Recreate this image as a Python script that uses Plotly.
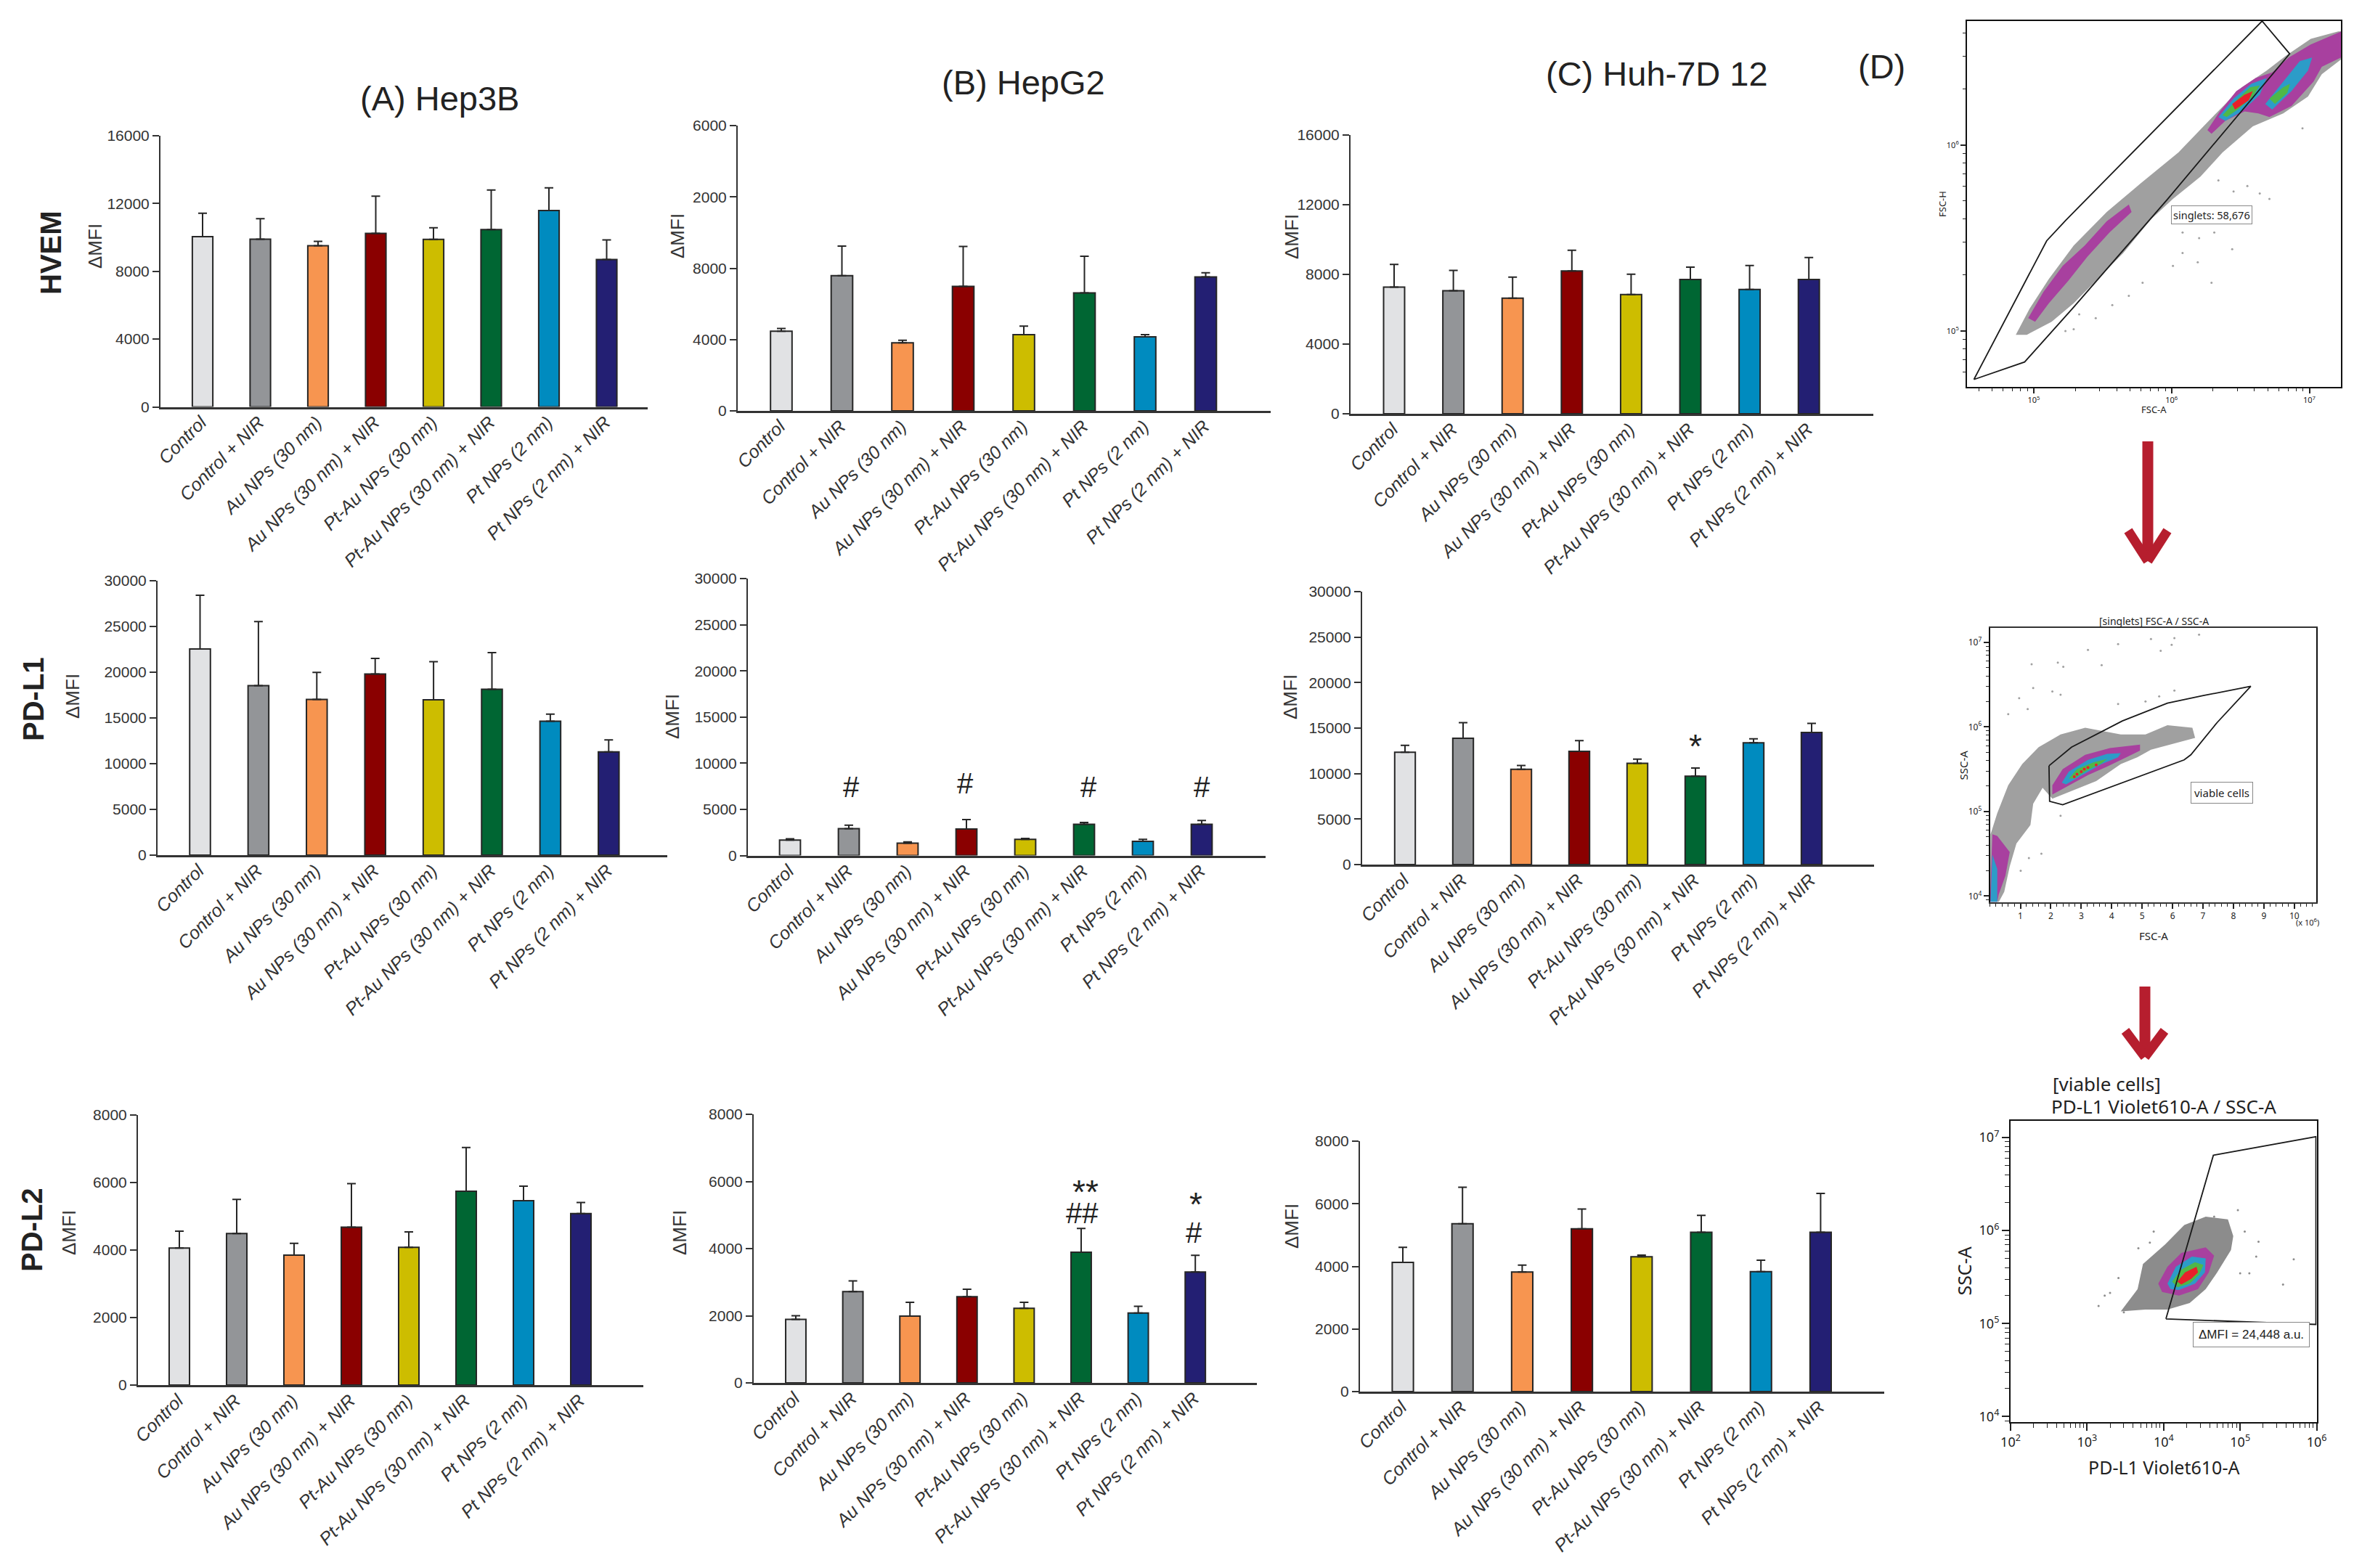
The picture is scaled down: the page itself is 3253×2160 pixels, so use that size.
import numpy as np
import plotly.graph_objects as go

W, H = 3253, 2160
PAGE_INSET = 8  # the page body's own margin
FONT = "Liberation Sans"
FLOW = "Noto Sans"

categories = ["Control", "Control + NIR", "Au NPs (30 nm)", "Au NPs (30 nm) + NIR",
              "Pt-Au NPs (30 nm)", "Pt-Au NPs (30 nm) + NIR", "Pt NPs (2 nm)", "Pt NPs (2 nm) + NIR"]
bar_colors = ["#E1E2E4", "#939598", "#F79550", "#8A0000", "#CDBD00", "#006633", "#008BBF", "#231F73"]

# ----- bar heights and the top of each error bar -----
hep3b_hvem = [10050, 9900, 9510, 10240, 9890, 10460, 11590, 8700]
hep3b_hvem_top = [11430, 11110, 9770, 12430, 10570, 12800, 12930, 9850]
hepg2_hvem = [4470, 7580, 3820, 6980, 4270, 6620, 4150, 7510]
hepg2_hvem_top = [4620, 9240, 3960, 9220, 4750, 8670, 4270, 7750]
huh7_hvem = [7260, 7050, 6630, 8190, 6830, 7700, 7130, 7700]
huh7_hvem_top = [8560, 8220, 7830, 9370, 8000, 8410, 8500, 8960]

hep3b_pdl1 = [22530, 18540, 17030, 19810, 16990, 18130, 14650, 11280]
hep3b_pdl1_top = [28410, 25530, 19990, 21500, 21160, 22150, 15410, 12590]
hepg2_pdl1 = [1670, 2900, 1330, 2870, 1740, 3380, 1540, 3380]
hepg2_pdl1_top = [1810, 3280, 1470, 3890, 1840, 3580, 1740, 3790]
huh7_pdl1 = [12340, 13890, 10470, 12440, 11130, 9710, 13380, 14520]
huh7_pdl1_top = [13100, 15590, 10890, 13620, 11580, 10610, 13820, 15520]

hep3b_pdl2 = [4060, 4490, 3850, 4680, 4080, 5740, 5460, 5080]
hep3b_pdl2_top = [4560, 5500, 4200, 5970, 4540, 7040, 5890, 5410]
hepg2_pdl2 = [1890, 2720, 1990, 2570, 2220, 3890, 2080, 3300]
hepg2_pdl2_top = [2000, 3040, 2400, 2790, 2400, 4600, 2280, 3800]
huh7_pdl2 = [4130, 5360, 3820, 5200, 4310, 5090, 3830, 5090]
huh7_pdl2_top = [4610, 6530, 4040, 5830, 4360, 5630, 4200, 6330]

# tick values and the labels as they are printed (the HepG2 HVEM panel has clipped labels)
ticks_16k = [0, 4000, 8000, 12000, 16000]
ticks_16k_text = ["0", "4000", "8000", "12000", "16000"]
ticks_16k_clipped = ["0", "4000", "8000", "2000", "6000"]
ticks_30k = [0, 5000, 10000, 15000, 20000, 25000, 30000]
ticks_30k_text = ["0", "5000", "10000", "15000", "20000", "25000", "30000"]
ticks_8k = [0, 2000, 4000, 6000, 8000]
ticks_8k_text = ["0", "2000", "4000", "6000", "8000"]

# ----- flow cytometry regions, as (log10 x, log10 y) or (x in 1e6, log10 y) -----
d1_gate_x = [4.566, 4.924, 5.094, 5.233, 6.657, 6.857, 5.970, 5.283, 4.934, 4.566]
d1_gate_y = [4.740, 5.248, 5.485, 5.596, 6.666, 6.490, 5.708, 5.123, 4.834, 4.740]
d1_gray_x = [4.87, 4.97, 5.11, 5.29, 5.53, 5.77, 6.05, 6.27, 6.51, 6.69, 6.83, 7.01, 7.21, 7.23, 7.23, 7.09, 6.99, 6.81, 6.59, 6.37, 6.21, 6.01, 5.85, 5.65, 5.49, 5.29, 5.13, 4.95]
d1_gray_y = [4.98, 5.12, 5.28, 5.46, 5.64, 5.79, 5.96, 6.13, 6.31, 6.40, 6.48, 6.57, 6.61, 6.61, 6.46, 6.38, 6.26, 6.17, 6.10, 5.96, 5.83, 5.71, 5.60, 5.42, 5.30, 5.15, 5.05, 4.98]
d1_mag1_x = [4.96, 5.07, 5.21, 5.37, 5.53, 5.69, 5.71, 5.55, 5.39, 5.25, 5.11, 5.01]
d1_mag1_y = [5.07, 5.21, 5.35, 5.46, 5.59, 5.68, 5.64, 5.53, 5.40, 5.27, 5.15, 5.05]
d1_mag2_x = [6.26, 6.35, 6.47, 6.61, 6.73, 6.85, 7.01, 7.23, 7.23, 7.09, 7.03, 6.87, 6.71, 6.63, 6.53, 6.39, 6.29]
d1_mag2_y = [6.08, 6.18, 6.29, 6.36, 6.39, 6.47, 6.54, 6.61, 6.47, 6.42, 6.34, 6.21, 6.15, 6.17, 6.18, 6.13, 6.06]
d1_cyan1_x = [6.34, 6.45, 6.58, 6.69, 6.64, 6.51, 6.39]
d1_cyan1_y = [6.15, 6.25, 6.33, 6.36, 6.27, 6.18, 6.13]
d1_green1_x = [6.37, 6.47, 6.57, 6.64, 6.59, 6.48, 6.40]
d1_green1_y = [6.16, 6.24, 6.31, 6.32, 6.26, 6.19, 6.15]
d1_red1_x = [6.44, 6.53, 6.59, 6.56, 6.46]
d1_red1_y = [6.22, 6.27, 6.29, 6.24, 6.19]
d1_cyan2_x = [6.68, 6.79, 6.93, 7.02, 6.99, 6.87, 6.73]
d1_cyan2_y = [6.22, 6.32, 6.45, 6.47, 6.40, 6.29, 6.19]
d1_green2_x = [6.71, 6.81, 6.86, 6.84, 6.75]
d1_green2_y = [6.25, 6.31, 6.33, 6.28, 6.22]
d1_dots_x = [5.69, 5.79, 6.01, 6.08, 6.19, 6.29, 6.44, 6.20, 6.31, 6.08, 6.55, 6.64, 6.71, 6.95, 6.45, 6.34, 5.57, 5.45, 5.29, 5.23, 5.33]
d1_dots_y = [5.19, 5.26, 5.35, 5.42, 5.37, 5.26, 5.44, 5.50, 5.53, 5.53, 5.78, 5.74, 5.71, 6.09, 5.75, 5.81, 5.14, 5.07, 5.01, 5.00, 5.09]

d2_gate_x = [1.94, 1.96, 2.39, 6.38, 6.60, 7.46, 8.57, 7.01, 5.83, 4.35, 2.68, 1.94]
d2_gate_y = [5.54, 5.12, 5.08, 5.61, 5.67, 6.05, 6.48, 6.37, 6.28, 6.07, 5.76, 5.54]
d2_gray_x = [0.00, 0.02, 0.24, 0.60, 1.06, 1.60, 2.32, 3.13, 4.30, 5.11, 5.83, 6.65, 6.74, 6.02, 5.29, 4.84, 4.30, 3.49, 2.59, 2.05, 1.73, 1.42, 1.33, 0.87, 0.65, 0.47, 0.29]
d2_gray_y = [3.93, 4.73, 4.98, 5.31, 5.56, 5.76, 5.91, 5.99, 5.91, 5.91, 6.02, 5.99, 5.87, 5.80, 5.73, 5.64, 5.56, 5.36, 5.23, 5.15, 5.28, 5.09, 4.84, 4.62, 4.35, 4.05, 3.93]
d2_mag_x = [2.05, 2.39, 3.13, 3.94, 4.93, 4.93, 4.48, 3.85, 3.22, 2.59, 2.05]
d2_mag_y = [5.31, 5.50, 5.67, 5.75, 5.79, 5.72, 5.64, 5.53, 5.43, 5.31, 5.20]
d2_cyan_x = [2.36, 2.59, 3.22, 3.85, 4.30, 4.21, 3.67, 3.04, 2.50]
d2_cyan_y = [5.34, 5.47, 5.61, 5.68, 5.69, 5.64, 5.56, 5.43, 5.32]
d2_green_x = [2.59, 2.86, 3.40, 3.85, 3.67, 3.22, 2.77]
d2_green_y = [5.39, 5.50, 5.58, 5.62, 5.57, 5.49, 5.39]
d2_red_x = [2.77, 3.00, 3.22, 3.49, 2.86, 3.10]
d2_red_y = [5.41, 5.47, 5.52, 5.55, 5.44, 5.50]
d2_mag_low_x = [0.00, 0.08, 0.24, 0.65, 0.51, 0.29, 0.24]
d2_mag_low_y = [3.93, 4.73, 4.71, 4.52, 4.24, 4.02, 3.93]
d2_cyan_low_x = [0.02, 0.08, 0.24, 0.24]
d2_cyan_low_y = [3.93, 4.49, 4.32, 3.93]
d2_dots_x = [0.96, 1.42, 1.37, 2.23, 2.41, 3.67, 3.22, 4.21, 5.29, 6.06, 6.87, 5.97, 5.61, 2.05, 2.32, 0.60, 1.24, 4.21, 5.11, 5.56, 6.06, 1.69, 1.28, 1.01, 2.32]
d2_dots_y = [6.34, 6.46, 6.74, 6.76, 6.71, 6.73, 6.91, 6.98, 7.04, 7.05, 7.09, 6.97, 6.90, 6.42, 6.38, 6.15, 6.21, 6.27, 6.30, 6.36, 6.43, 4.50, 4.45, 4.30, 4.95]

d3_gate_x = [4.03, 4.65, 5.99, 5.99, 4.03]
d3_gate_y = [5.05, 6.81, 7.01, 4.99, 5.05]
d3_gray_x = [3.44, 3.66, 3.73, 4.02, 4.27, 4.55, 4.84, 4.91, 4.88, 4.70, 4.55, 4.34, 4.05, 3.76]
d3_gray_y = [5.13, 5.37, 5.64, 5.85, 6.06, 6.15, 6.12, 5.94, 5.79, 5.55, 5.37, 5.22, 5.15, 5.15]
d3_mag_x = [3.93, 4.05, 4.23, 4.55, 4.66, 4.59, 4.45, 4.20, 3.98]
d3_mag_y = [5.43, 5.61, 5.76, 5.82, 5.73, 5.55, 5.37, 5.30, 5.34]
d3_cyan_x = [4.05, 4.16, 4.37, 4.55, 4.54, 4.41, 4.20, 4.09]
d3_cyan_y = [5.43, 5.61, 5.72, 5.70, 5.55, 5.43, 5.36, 5.37]
d3_green_x = [4.11, 4.23, 4.41, 4.52, 4.46, 4.34, 4.18]
d3_green_y = [5.45, 5.58, 5.66, 5.63, 5.52, 5.43, 5.39]
d3_red_x = [4.18, 4.28, 4.43, 4.45, 4.36, 4.23]
d3_red_y = [5.45, 5.55, 5.61, 5.55, 5.48, 5.42]
d3_dots_x = [3.15, 3.23, 3.30, 3.41, 3.48, 3.67, 3.82, 3.87, 4.97, 5.06, 5.24, 5.21, 5.70, 5.00, 5.12, 5.56, 4.66]
d3_dots_y = [5.19, 5.30, 5.33, 5.49, 5.12, 5.81, 5.87, 5.99, 6.22, 5.99, 5.88, 5.72, 5.69, 5.54, 5.54, 5.42, 6.15]

GRAY, MAG, CYAN, GREEN, RED = "#a0a0a0", "#A8409F", "#2C9CC8", "#4FB848", "#E8202A"

# ----- layout of the panels in page pixels: left, right, top, bottom, first bar, spacing -----
panels = [
    (hep3b_hvem, hep3b_hvem_top, ticks_16k, ticks_16k_text, 16000, (221, 892, 187, 560.5, 279, 79.5)),
    (hepg2_hvem, hepg2_hvem_top, ticks_16k, ticks_16k_clipped, 16000, (1016, 1750, 173, 566, 1076, 83.5)),
    (huh7_hvem, huh7_hvem_top, ticks_16k, ticks_16k_text, 16000, (1860, 2580, 185.5, 570, 1920, 81.6)),
    (hep3b_pdl1, hep3b_pdl1_top, ticks_30k, ticks_30k_text, 30000, (217, 919, 800, 1178, 275.5, 80.4)),
    (hepg2_pdl1, hepg2_pdl1_top, ticks_30k, ticks_30k_text, 30000, (1030, 1743, 797, 1178.5, 1088, 81)),
    (huh7_pdl1, huh7_pdl1_top, ticks_30k, ticks_30k_text, 30000, (1876, 2581, 815, 1191, 1935, 80)),
    (hep3b_pdl2, hep3b_pdl2_top, ticks_8k, ticks_8k_text, 8000, (190, 886, 1536, 1908, 247, 79)),
    (hepg2_pdl2, hepg2_pdl2_top, ticks_8k, ticks_8k_text, 8000, (1038, 1731, 1535, 1905, 1096, 78.6)),
    (huh7_pdl2, huh7_pdl2_top, ticks_8k, ticks_8k_text, 8000, (1873, 2595, 1572, 1917, 1932, 82.2)),
]
ymfi_pos = [(131, 339), (933, 325), (1779, 326), (100, 959), (926, 987), (1777, 960), (95, 1698), (936, 1698), (1779, 1689)]

fig = go.Figure()
layout = {}
annotations = []
shapes = []


def px(x):
    return (x - PAGE_INSET) / W


def py(y):
    return 1 - (y - PAGE_INSET) / H


def text(x, y, s, size, angle=0, family=FONT, color="#222222", **kw):
    annotations.append(dict(xref="paper", yref="paper", x=px(x), y=py(y), text=s, showarrow=False,
                            textangle=angle, font=dict(family=family, size=size, color=color),
                            xanchor=kw.pop("xanchor", "center"), yanchor="middle", **kw))


for i, (vals, tops, tv, tt, ymax, g) in enumerate(panels, start=1):
    left, right, top, bottom, first, step = g
    suffix = "" if i == 1 else str(i)
    fig.add_trace(go.Bar(
        x=categories, y=vals, width=0.355, xaxis="x" + suffix, yaxis="y" + suffix,
        marker=dict(color=bar_colors, line=dict(color="#262626", width=2)),
        error_y=dict(type="data", symmetric=False, array=list(np.array(tops) - np.array(vals)),
                     arrayminus=[0] * 8, color="#262626", thickness=2, width=6),
        showlegend=False, hoverinfo="skip"))
    layout["xaxis" + suffix] = dict(
        domain=[px(left), px(right)], anchor="y" + suffix, type="category", automargin=False,
        categoryorder="array", categoryarray=categories,
        range=[(left - first) / step, (right - first) / step],
        showgrid=False, zeroline=False, showline=True, linecolor="#333333", linewidth=3,
        ticks="", tickangle=-45, ticklabelstandoff=-6, ticklabelshift=-2,
        tickfont=dict(family=FONT, size=25, color="#333333", style="italic"))
    layout["yaxis" + suffix] = dict(
        domain=[py(bottom), py(top)], anchor="x" + suffix, range=[0, ymax], automargin=False,
        showgrid=False, zeroline=False, showline=True, linecolor="#333333", linewidth=2,
        ticks="outside", ticklen=9, tickwidth=2, tickcolor="#333333",
        tickvals=tv, ticktext=tt, tickfont=dict(family=FONT, size=21, color="#333333"))
    text(ymfi_pos[i - 1][0], ymfi_pos[i - 1][1], "ΔMFI", 26, angle=-90, color="#333333")

# significance marks in data coordinates of their panels
marks = [
    ("x5", "y5", 1.04, 7440, "#"), ("x5", "y5", 2.98, 7850, "#"), ("x5", "y5", 5.08, 7440, "#"), ("x5", "y5", 7.0, 7440, "#"),
    ("x6", "y6", 5.0, 13686, "*"),
    ("x8", "y8", 5.08, 5879, "**"), ("x8", "y8", 5.02, 5060, "##"), ("x8", "y8", 7.01, 5505, "*"), ("x8", "y8", 6.98, 4486, "#"),
]
for xr, yr, mx, my, s in marks:
    annotations.append(dict(xref=xr, yref=yr, x=mx, y=my, text=s, showarrow=False,
                            font=dict(family=FONT, size=46 if "*" in s else 40, color="#222222"),
                            yshift=-9 if "*" in s else 0))

# headings
text(605, 136, "(A) Hep3B", 47)
text(1409, 114, "(B) HepG2", 47)
text(2282, 102, "(C) Huh-7D 12", 47)
text(2591, 92, "(D)", 47)
text(70, 348, "<b>HVEM</b>", 40, angle=-90)
text(46, 963, "<b>PD-L1</b>", 40, angle=-90)
text(44, 1694, "<b>PD-L2</b>", 40, angle=-90)


def log_minor(lo, hi):
    out = []
    for d in range(int(np.floor(lo)), int(np.ceil(hi)) + 1):
        for m in range(2, 10):
            v = m * 10.0 ** d
            if 10 ** lo <= v <= 10 ** hi:
                out.append(v)
    return out


def decade_axis(domain, rng, anchor, decades, size, major, minor):
    return dict(domain=domain, range=rng, type="log", anchor=anchor, mirror=True, automargin=False,
                showgrid=False, zeroline=False, showline=True, linecolor="#111111", linewidth=2,
                ticks="outside", ticklen=major, tickwidth=2, tickcolor="#222222",
                tickvals=[10.0 ** d for d in decades],
                ticktext=["10<sup>%d</sup>" % d for d in decades],
                tickfont=dict(family=FLOW, size=size, color="#222222"),
                minor=dict(ticks="outside", ticklen=minor, tickwidth=1, tickcolor="#222222",
                           tickvals=log_minor(rng[0], rng[1]), showgrid=False))


def region(xa, ya, xs, ys, color, log_x=True):
    xv = 10 ** np.array(xs) if log_x else list(xs)
    fig.add_trace(go.Scatter(x=xv, y=10 ** np.array(ys), xaxis=xa, yaxis=ya, mode="lines",
                             fill="toself", fillcolor=color, line=dict(width=0, color=color),
                             showlegend=False, hoverinfo="skip"))


def dots(xa, ya, xs, ys, color, size, log_x=True):
    xv = 10 ** np.array(xs) if log_x else list(xs)
    fig.add_trace(go.Scatter(x=xv, y=10 ** np.array(ys), xaxis=xa, yaxis=ya, mode="markers",
                             marker=dict(color=color, size=size), showlegend=False, hoverinfo="skip"))


def gate(xa, ya, xs, ys, log_x=True):
    xv = 10 ** np.array(xs) if log_x else list(xs)
    fig.add_trace(go.Scatter(x=xv, y=10 ** np.array(ys), xaxis=xa, yaxis=ya, mode="lines",
                             line=dict(color="#1a1a1a", width=1.8), showlegend=False, hoverinfo="skip"))


# D1: FSC-A / FSC-H
layout["xaxis10"] = decade_axis([px(2709), px(3224)], [4.516, 7.229], "y10", [5, 6, 7], 11, 7, 4)
layout["yaxis10"] = decade_axis([py(533), py(29)], [4.70, 6.666], "x10", [5, 6], 11, 7, 4)
region("x10", "y10", d1_gray_x, d1_gray_y, GRAY)
region("x10", "y10", d1_mag1_x, d1_mag1_y, MAG)
region("x10", "y10", d1_mag2_x, d1_mag2_y, MAG)
region("x10", "y10", d1_cyan1_x, d1_cyan1_y, CYAN)
region("x10", "y10", d1_green1_x, d1_green1_y, GREEN)
region("x10", "y10", d1_red1_x, d1_red1_y, RED)
region("x10", "y10", d1_cyan2_x, d1_cyan2_y, CYAN)
region("x10", "y10", d1_green2_x, d1_green2_y, GREEN)
dots("x10", "y10", d1_dots_x, d1_dots_y, GRAY, 3)
gate("x10", "y10", d1_gate_x, d1_gate_y)
text(3046, 296, "singlets: 58,676", 14.5, family=FLOW, bgcolor="#ffffff", bordercolor="#888888", borderwidth=1, borderpad=2)
text(2675, 281, "FSC-H", 13, angle=-90, family=FLOW)
text(2966, 564, "FSC-A", 13, family=FLOW)

# D2: FSC-A / SSC-A
layout["xaxis11"] = dict(domain=[px(2740.6), px(3190)], range=[0, 10.72], anchor="y11", mirror=True, automargin=False,
                         showgrid=False, zeroline=False, showline=True, linecolor="#333333", linewidth=2,
                         ticks="outside", ticklen=7, tickwidth=2, tickcolor="#222222",
                         tickvals=list(range(1, 11)), ticktext=[str(v) for v in range(1, 11)],
                         tickfont=dict(family=FLOW, size=12, color="#222222"),
                         minor=dict(ticks="outside", ticklen=4, tickwidth=1, tickcolor="#222222", dtick=0.2, showgrid=False))
layout["yaxis11"] = decade_axis([py(1242.6), py(865)], [3.929, 7.17], "x11", [4, 5, 6, 7], 12, 7, 4)
region("x11", "y11", d2_gray_x, d2_gray_y, GRAY, False)
region("x11", "y11", d2_mag_x, d2_mag_y, MAG, False)
region("x11", "y11", d2_cyan_x, d2_cyan_y, CYAN, False)
region("x11", "y11", d2_green_x, d2_green_y, GREEN, False)
region("x11", "y11", d2_mag_low_x, d2_mag_low_y, MAG, False)
region("x11", "y11", d2_cyan_low_x, d2_cyan_low_y, CYAN, False)
dots("x11", "y11", d2_red_x, d2_red_y, RED, 4, False)
dots("x11", "y11", d2_dots_x, d2_dots_y, GRAY, 3, False)
gate("x11", "y11", d2_gate_x, d2_gate_y, False)
text(2966, 855, "[singlets] FSC-A / SSC-A", 14, family=FLOW)
text(3060, 1092, "viable cells", 15, family=FLOW, bgcolor="#ffffff", bordercolor="#888888", borderwidth=1, borderpad=4)
text(2703.5, 1054, "SSC-A", 15, angle=-90, family=FLOW)
text(2966, 1289, "FSC-A", 15, family=FLOW)
text(3178, 1270, "(x 10<sup>6</sup>)", 11, family=FLOW)

# D3: PD-L1 Violet610-A / SSC-A
layout["xaxis12"] = decade_axis([px(2769), px(3190.6)], [2, 6], "y12", [2, 3, 4, 5, 6], 18, 10, 6)
layout["yaxis12"] = decade_axis([py(1959), py(1544)], [3.94, 7.18], "x12", [4, 5, 6, 7], 18, 10, 6)
region("x12", "y12", d3_gray_x, d3_gray_y, "#8c8c8c")
region("x12", "y12", d3_mag_x, d3_mag_y, MAG)
region("x12", "y12", d3_cyan_x, d3_cyan_y, CYAN)
region("x12", "y12", d3_green_x, d3_green_y, GREEN)
region("x12", "y12", d3_red_x, d3_red_y, RED)
dots("x12", "y12", d3_dots_x, d3_dots_y, "#8c8c8c", 3)
gate("x12", "y12", d3_gate_x, d3_gate_y)
text(2824.5, 1493, "[viable cells]", 26, family=FLOW, xanchor="left")
text(2823, 1523.5, "PD-L1 Violet610-A / SSC-A", 26, family=FLOW, xanchor="left")
text(3100, 1838, "ΔMFI = 24,448 a.u.", 17, bgcolor="#ffffff", bordercolor="#888888", borderwidth=1, borderpad=7)
text(2705, 1751.6, "SSC-A", 25, angle=-90, family=FLOW)
text(2980, 2021, "PD-L1 Violet610-A", 25, family=FLOW)


# red arrows between the flow panels
def arrow(x, y0, y1, head):
    for xa, ya, xb, yb, w in [(x, y0, x, y1 - 6, 15), (x - 27, y1 - head, x, y1, 13), (x + 27, y1 - head, x, y1, 13)]:
        shapes.append(dict(type="line", xref="paper", yref="paper", x0=px(xa), y0=py(ya), x1=px(xb), y1=py(yb),
                           line=dict(color="#B61E2E", width=w)))


arrow(2958, 608, 773, 42)
arrow(2954, 1359, 1456, 36)

fig.update_layout(width=W, height=H, margin=dict(l=0, r=0, t=0, b=0, autoexpand=False), paper_bgcolor="white",
                  plot_bgcolor="rgba(0,0,0,0)", showlegend=False, barmode="overlay",
                  annotations=annotations, shapes=shapes, **layout)
fig.write_html("out.html")
